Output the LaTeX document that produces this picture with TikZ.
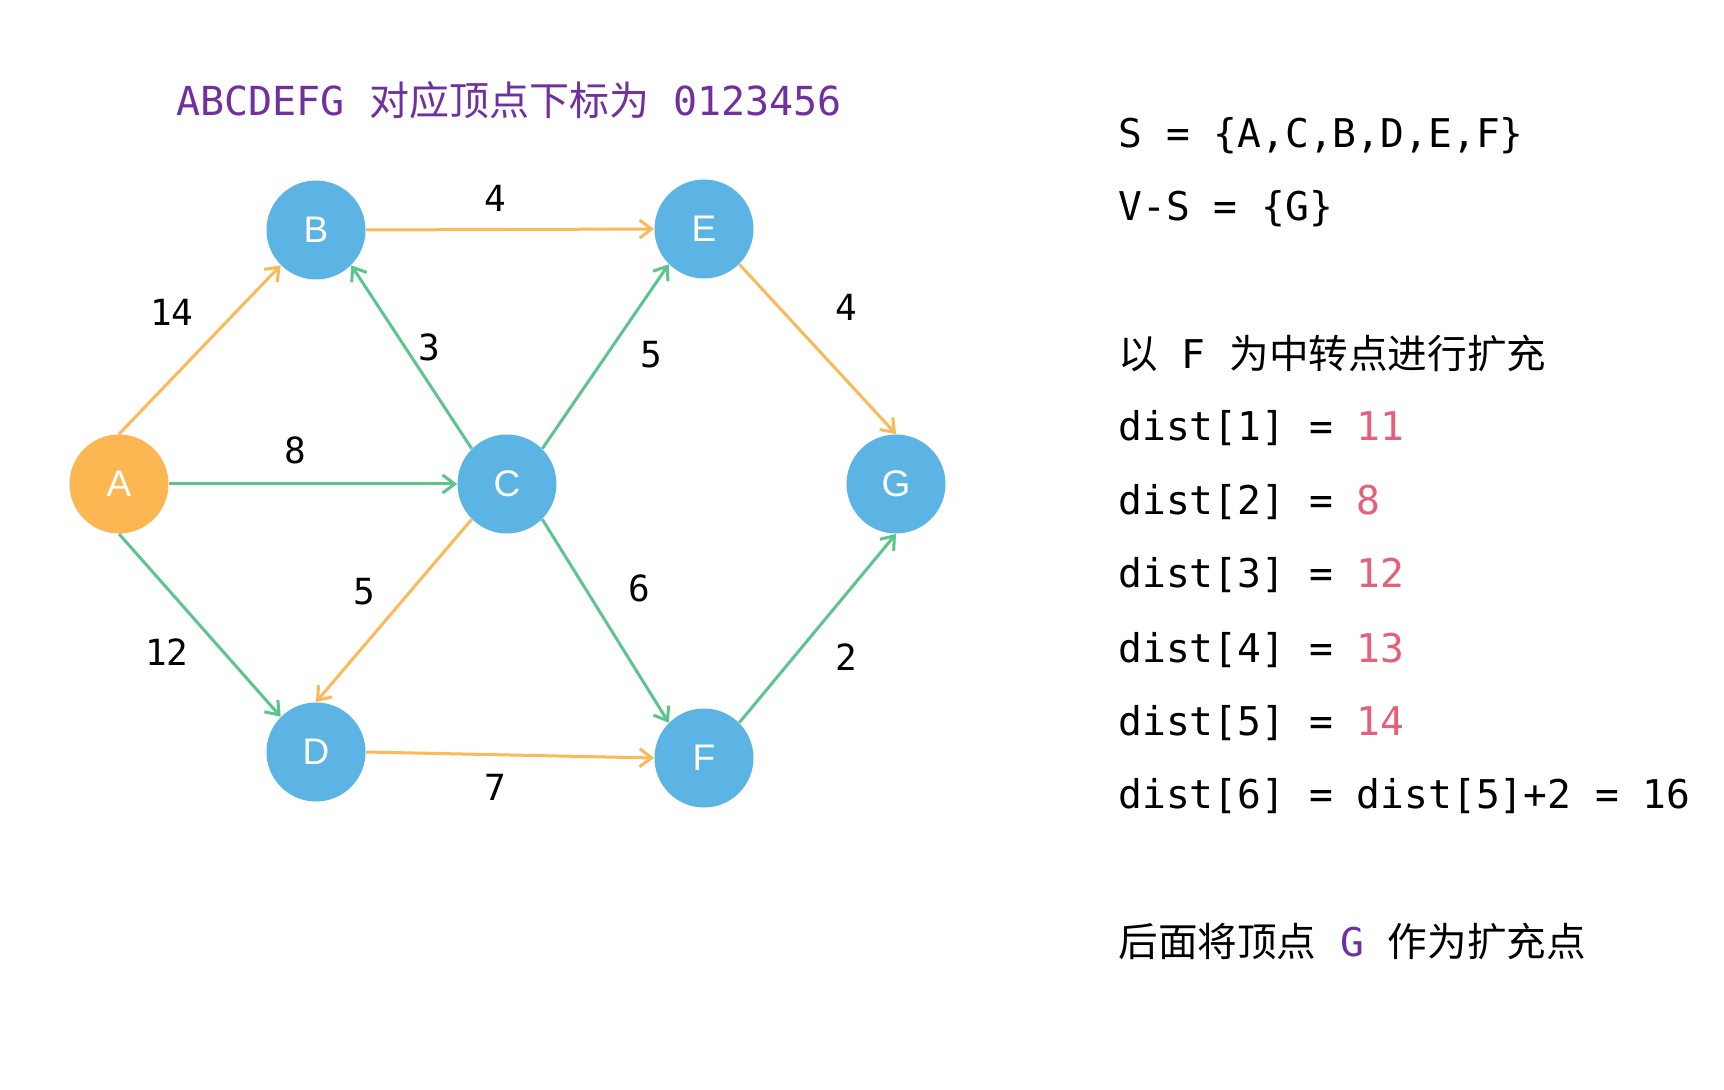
\documentclass[tikz,border=0pt]{standalone}
\usepackage{fontspec}
\setmainfont{DejaVu Sans Mono}
\newfontfamily\cjk{Noto Sans CJK SC}
\newfontfamily\vfont{Liberation Sans}
\usetikzlibrary{arrows.meta}
\definecolor{nodeblue}{RGB}{91,180,228}
\definecolor{srcorange}{RGB}{252,182,82}
\definecolor{edgeorange}{RGB}{250,185,90}
\definecolor{edgegreen}{RGB}{94,196,142}
\definecolor{titlepurple}{RGB}{112,48,160}
\definecolor{distred}{RGB}{231,95,120}

\begin{document}
\begin{tikzpicture}[x=0.5pt,y=-0.5pt,
   vx/.style={circle,fill=nodeblue,minimum size=49.5pt,inner sep=0pt,text=white,font=\vfont\fontsize{18.5}{18.5}\selectfont},
   og/.style={draw=edgeorange,line width=1.5pt,-{Straight Barb[length=6pt,width=9pt]}},
   gr/.style={og,draw=edgegreen},
   wt/.style={inner sep=0pt,font=\fontsize{18}{18}\selectfont},
   ln/.style={anchor=base west,inner sep=0pt,font=\fontsize{19.8}{24}\selectfont}]
  \fill[white] (0,0) rectangle (1724,1090);
  \useasboundingbox (0,0) rectangle (1724,1090);
  % title
  \node[anchor=base,inner sep=0pt,text=titlepurple,font=\fontsize{20}{24}\selectfont] (title) at (509,116)
     {ABCDEFG {\cjk 对应顶点下标为} 0123456};
  % vertices
  \node[vx,fill=srcorange] (a) at (119,484) {A};
  \node[vx] (b) at (316,230) {B};
  \node[vx] (c) at (507,484) {C};
  \node[vx] (d) at (316,752) {D};
  \node[vx] (e) at (704,229) {E};
  \node[vx] (f) at (704,758) {F};
  \node[vx] (g) at (896,484) {G};
  % edges (orange = shortest path tree so far)
  \draw[og] (a.north) -- node[wt,shift={(-28,-37)}]{14} (b.-135);
  \draw[gr] (a.east) -- node[wt,shift={(-18,-34)}]{8} (c.west);
  \draw[gr] (a.south) -- node[wt,shift={(-33,27)}]{12} (d.135);
  \draw[og] (b.east) -- node[wt,shift={(-15,-31)}]{4} (e.west);
  \draw[gr] (c.135) -- node[wt,shift={(18,-10)}]{3} (b.-45);
  \draw[gr] (c.45) -- node[wt,shift={(46,-2)}]{5} (e.-135);
  \draw[og] (c.-135) -- node[wt,shift={(-30,-19)}]{5} (d.north);
  \draw[gr] (c.-45) -- node[wt,shift={(34,-33)}]{6} (f.135);
  \draw[og] (d.east) -- node[wt,shift={(-15,32)}]{7} (f.west);
  \draw[og] (e.-45) -- node[wt,shift={(29,-42)}]{4} (g.north);
  \draw[gr] (f.45) -- node[wt,shift={(29,29)}]{2} (g.south);
  % state of the algorithm
  \node[ln] (s) at (1118,148) {S = \{A,C,B,D,E,F\}};
  \node[ln] (vs) at (1118,221) {V-S = \{G\}};
  \node[ln] (via) at (1118,369) {{\cjk 以} F {\cjk 为中转点进行扩充}};
  \node[ln] (d1) at (1118,441) {dist[1] = \textcolor{distred}{11}};
  \node[ln] (d2) at (1118,515) {dist[2] = \textcolor{distred}{8}};
  \node[ln] (d3) at (1118,588) {dist[3] = \textcolor{distred}{12}};
  \node[ln] (d4) at (1118,662) {dist[4] = \textcolor{distred}{13}};
  \node[ln] (d5) at (1118,735) {dist[5] = \textcolor{distred}{14}};
  \node[ln] (d6) at (1118,808) {dist[6] = dist[5]+2 = 16};
  \node[ln] (nxt) at (1118,956) {{\cjk 后面将顶点} \textcolor{titlepurple}{G} {\cjk 作为扩充点}};
\end{tikzpicture}
\end{document}
